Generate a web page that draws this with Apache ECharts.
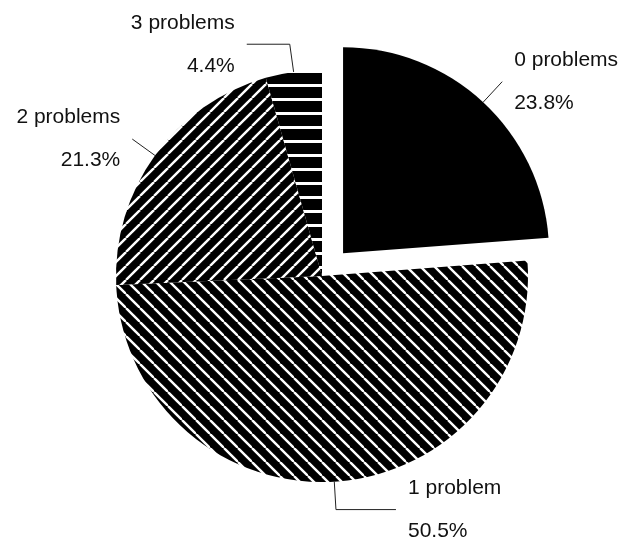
<!DOCTYPE html>
<html>
<head>
<meta charset="utf-8">
<script src="https://cdn.jsdelivr.net/npm/echarts@6/dist/echarts.min.js"></script>
<style>
html,body{margin:0;padding:0;background:#fff;}
#chart{width:626px;height:548px;}
</style>
</head>
<body>
<div id="chart"></div>
<script>
var categories = ['0 problems', '1 problem', '2 problems', '3 problems'];
var percents = [23.8, 50.5, 21.3, 4.4];

function makePattern(kind) {
  var c = document.createElement('canvas');
  var s = 14;
  c.width = s; c.height = s;
  var g = c.getContext('2d');
  g.fillStyle = '#000';
  g.fillRect(0, 0, s, s);
  g.strokeStyle = '#fff';
  g.fillStyle = '#fff';
  if (kind === 'solid') return '#000';
  if (kind === 'horiz') {
    g.fillRect(0, 0, s, 3);
  } else {
    g.lineWidth = 2.4;
    for (var i = -1; i <= 1; i++) {
      g.beginPath();
      if (kind === 'back') {
        g.moveTo(i * s, 0); g.lineTo(i * s + s, s);
      } else {
        g.moveTo(i * s, s); g.lineTo(i * s + s, 0);
      }
      g.stroke();
    }
  }
  return { image: c, repeat: 'repeat' };
}

var fills = [makePattern('solid'), makePattern('back'), makePattern('fwd'), makePattern('horiz')];
var line2 = [0, 60, 0, 43];
var line1 = [28, 28, 28, 28];

var data = categories.map(function (n, i) {
  return {
    name: n,
    value: percents[i],
    selected: i === 0,
    itemStyle: { color: fills[i] },
    labelLine: { length: line1[i], length2: line2[i] }
  };
});

var chart = echarts.init(document.getElementById('chart'));
chart.setOption({
  animation: false,
  backgroundColor: '#fff',
  series: [{
    type: 'pie',
    center: [322, 276],
    radius: 206,
    startAngle: 90,
    clockwise: true,
    selectedMode: 'single',
    selectedOffset: 31,
    avoidLabelOverlap: false,
    silent: true,
    itemStyle: { borderWidth: 0 },
    emphasis: { disabled: true },
    select: { itemStyle: { borderWidth: 0 } },
    label: {
      show: true,
      position: 'outside',
      distanceToLabelLine: 12,
      formatter: '{n|{b}}\n{p|{c}%}',
      rich: {
        n: { fontFamily: 'Liberation Sans, Arial, sans-serif', fontSize: 21, color: '#111', lineHeight: 43 },
        p: { fontFamily: 'Liberation Sans, Arial, sans-serif', fontSize: 21, color: '#111', lineHeight: 43 }
      }
    },
    labelLine: {
      show: true,
      smooth: false,
      lineStyle: { color: '#222', width: 1 }
    },
    data: data
  }]
});
</script>
</body>
</html>
